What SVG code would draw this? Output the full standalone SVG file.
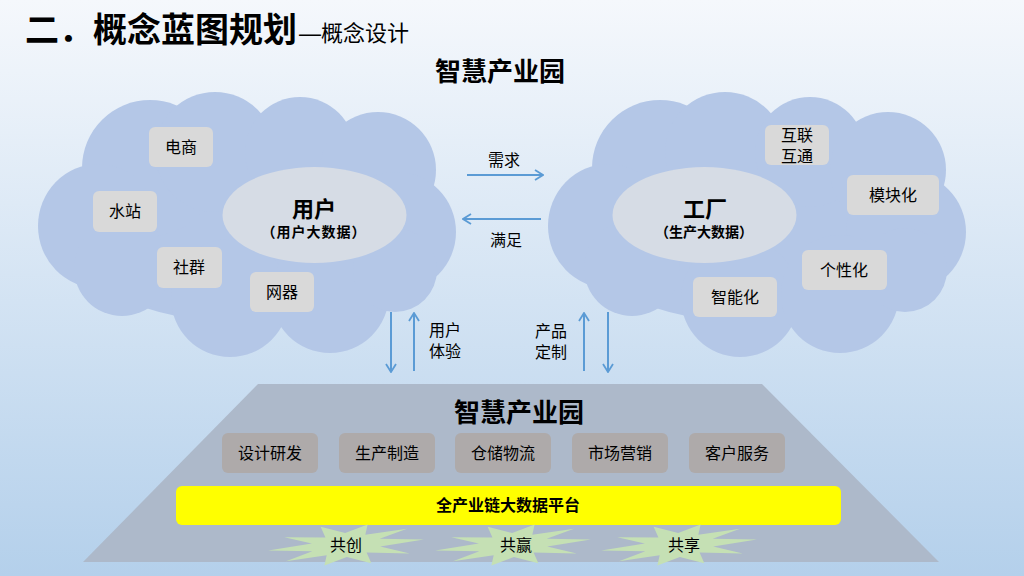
<svg xmlns="http://www.w3.org/2000/svg" xmlns:xlink="http://www.w3.org/1999/xlink" width="1024" height="576" viewBox="0 0 1024 576">
<defs>
<linearGradient id="bg" x1="0" y1="0" x2="0" y2="1">
<stop offset="0" stop-color="#f5f8fc"/>
<stop offset="1" stop-color="#b4d0eb"/>
</linearGradient>
<g id="cloudShape">
<ellipse cx="248" cy="228" rx="190" ry="95"/>
<circle cx="150" cy="168" r="68"/>
<circle cx="215" cy="152" r="60"/>
<circle cx="300" cy="152" r="55"/>
<circle cx="378" cy="170" r="58"/>
<circle cx="396" cy="232" r="60"/>
<ellipse cx="98" cy="226" rx="60" ry="62"/>
<circle cx="122" cy="268" r="48"/>
<circle cx="230" cy="298" r="59"/>
<circle cx="330" cy="294" r="59"/>
<circle cx="395" cy="270" r="42"/>
</g>
<polygon id="star" points="78,0 34,4 63,13 20,9 24,20 0,12 -23,19 -20,9 -61,12 -34,4 -78,0 -34,-4 -61,-12 -20,-9 -24,-20 0,-12 23,-19 20,-9 62,-12 34,-4"/>
<marker id="arr" viewBox="0 0 10 12" refX="9" refY="6" markerWidth="10" markerHeight="12" markerUnits="userSpaceOnUse" orient="auto">
<path d="M1,1 L9,6 L1,11" fill="none" stroke="#5b9bd5" stroke-width="1.8"/>
</marker>
<style>
text{font-family:"Liberation Sans","Noto Sans CJK SC",sans-serif;fill:#000}
.cloud{fill:#b4c7e7}
.ell{fill:#d6dce5}
.box{fill:#d9d9d9}
.gbox{fill:#aeaaaa}
.t16{font-size:16px;text-anchor:middle}
.b{font-weight:bold}
.conn{stroke:#5b9bd5;stroke-width:2;fill:none;marker-end:url(#arr)}
.starf{fill:#c5e0b4}
</style>
</defs>
<rect width="1024" height="576" fill="url(#bg)"/>

<g id="title">
<text x="25" y="42" font-size="34" font-weight="bold">二．概念蓝图规划</text>
<text x="299" y="41" font-size="22">—概念设计</text>
</g>
<g id="top-label">
<text x="500" y="81" font-size="26" font-weight="bold" text-anchor="middle">智慧产业园</text>
</g>

<g id="cloud-user">
<use xlink:href="#cloudShape" href="#cloudShape" class="cloud"/>
</g>
<g id="cloud-factory">
<use xlink:href="#cloudShape" href="#cloudShape" class="cloud" transform="translate(510,0)"/>
</g>

<g id="node-user">
<ellipse class="ell" cx="314.5" cy="215" rx="92" ry="48"/>
<text x="314" y="217" font-size="22" class="b" text-anchor="middle">用户</text>
<text x="314" y="237" font-size="14" class="b" text-anchor="middle" letter-spacing="1">（用户大数据）</text>
</g>
<g id="node-factory">
<ellipse class="ell" cx="704.5" cy="215" rx="92" ry="48"/>
<text x="705" y="217" font-size="22" class="b" text-anchor="middle">工厂</text>
<text x="704" y="237" font-size="14" class="b" text-anchor="middle">（生产大数据）</text>
</g>

<g id="node-dianshang"><rect class="box" x="149" y="127" width="64" height="40" rx="6"/><text class="t16" x="181" y="153">电商</text></g>
<g id="node-shuizhan"><rect class="box" x="93" y="191" width="64" height="41" rx="6"/><text class="t16" x="125" y="217">水站</text></g>
<g id="node-shequn"><rect class="box" x="157" y="247" width="65" height="41" rx="6"/><text class="t16" x="189" y="273">社群</text></g>
<g id="node-wangqi"><rect class="box" x="250" y="272" width="64" height="40" rx="6"/><text class="t16" x="282" y="298">网器</text></g>

<g id="node-hulian"><rect class="box" x="765" y="125" width="64" height="40" rx="6"/><text class="t16" x="797" y="141">互联</text><text class="t16" x="797" y="162">互通</text></g>
<g id="node-mokuai"><rect class="box" x="847" y="175" width="92" height="40" rx="6"/><text class="t16" x="893" y="201">模块化</text></g>
<g id="node-gexing"><rect class="box" x="802" y="250" width="85" height="40" rx="6"/><text class="t16" x="844" y="276">个性化</text></g>
<g id="node-zhineng"><rect class="box" x="693" y="277" width="84" height="40" rx="6"/><text class="t16" x="735" y="303">智能化</text></g>

<g id="connectors">
<line class="conn" x1="467" y1="175" x2="543" y2="175"/>
<line class="conn" x1="541" y1="219" x2="463" y2="219"/>
<line class="conn" x1="391" y1="312" x2="391" y2="372"/>
<line class="conn" x1="414" y1="371" x2="414" y2="313"/>
<line class="conn" x1="584" y1="371" x2="584" y2="313"/>
<line class="conn" x1="608" y1="312" x2="608" y2="372"/>
<text class="t16" x="504" y="166">需求</text>
<text class="t16" x="506" y="246">满足</text>
<text x="429" y="336" font-size="16">用户</text>
<text x="429" y="357" font-size="16">体验</text>
<text x="535" y="337" font-size="16">产品</text>
<text x="535" y="358" font-size="16">定制</text>
</g>

<g id="node-park">
<polygon points="258,384 762,384 939,562 83,562" fill="#adb9ca"/>
<text x="519" y="422" font-size="26" class="b" text-anchor="middle">智慧产业园</text>
</g>
<g id="node-sheji"><rect class="gbox" x="222" y="433" width="96" height="40" rx="6"/><text class="t16" x="270" y="459">设计研发</text></g>
<g id="node-shengchan"><rect class="gbox" x="339" y="433" width="96" height="40" rx="6"/><text class="t16" x="387" y="459">生产制造</text></g>
<g id="node-cangchu"><rect class="gbox" x="455" y="433" width="96" height="40" rx="6"/><text class="t16" x="503" y="459">仓储物流</text></g>
<g id="node-shichang"><rect class="gbox" x="572" y="433" width="96" height="40" rx="6"/><text class="t16" x="620" y="459">市场营销</text></g>
<g id="node-kehu"><rect class="gbox" x="689" y="433" width="96" height="40" rx="6"/><text class="t16" x="737" y="459">客户服务</text></g>

<g id="node-platform"><rect x="176" y="486" width="665" height="39" rx="6" fill="#ffff00"/><text class="t16 b" x="508" y="511">全产业链大数据平台</text></g>

<g id="node-gongchuang"><use xlink:href="#star" href="#star" class="starf" transform="translate(346,545) rotate(-4)"/><text class="t16" x="346" y="551">共创</text></g>
<g id="node-gongying"><use xlink:href="#star" href="#star" class="starf" transform="translate(513,545) rotate(-4)"/><text class="t16" x="516" y="551">共赢</text></g>
<g id="node-gongxiang"><use xlink:href="#star" href="#star" class="starf" transform="translate(679,545) rotate(-4)"/><text class="t16" x="684" y="551">共享</text></g>
</svg>
